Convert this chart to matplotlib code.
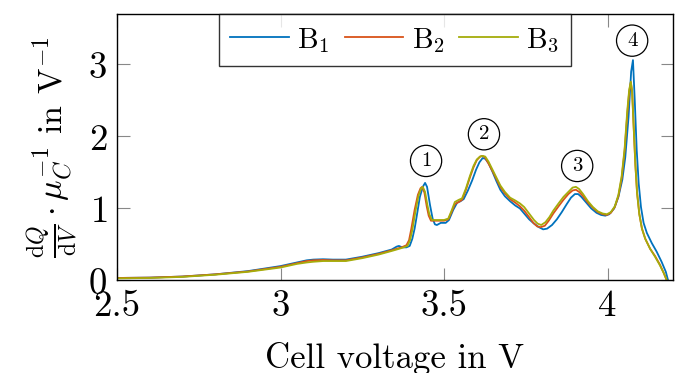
import matplotlib
matplotlib.use("Agg")
import matplotlib.pyplot as plt

plt.rcParams['font.family'] = ['cmr10', 'DejaVu Serif']
plt.rcParams['mathtext.fontset'] = 'cm'
plt.rcParams['axes.formatter.use_mathtext'] = True

# dQ/dV curves (cell voltage in V, value in 1/V)
v_b1 = [2.50, 2.60, 2.70, 2.80, 2.90, 3.00, 3.05, 3.08, 3.10, 3.13, 3.16, 3.20, 3.25, 3.30,
        3.34, 3.355, 3.362, 3.372, 3.385, 3.395, 3.403, 3.41, 3.416, 3.426, 3.435, 3.442,
        3.448, 3.457, 3.465, 3.472, 3.478, 3.49, 3.505, 3.515, 3.528, 3.54, 3.55, 3.56,
        3.573, 3.586, 3.598, 3.608, 3.618, 3.626, 3.636, 3.648, 3.66, 3.672, 3.686, 3.702,
        3.718, 3.732, 3.745, 3.76, 3.775, 3.79, 3.803, 3.815, 3.83, 3.845, 3.86, 3.875,
        3.888, 3.90, 3.91, 3.92, 3.935, 3.95, 3.966, 3.98, 3.993, 4.005, 4.02, 4.033,
        4.045, 4.054, 4.064, 4.072, 4.0775, 4.083, 4.089, 4.095, 4.102, 4.11, 4.12, 4.135,
        4.15, 4.165, 4.178, 4.185]
y_b1 = [0.035, 0.04, 0.055, 0.085, 0.13, 0.20, 0.25, 0.28, 0.29, 0.295, 0.29, 0.29, 0.33, 0.38,
        0.43, 0.47, 0.48, 0.46, 0.46, 0.48, 0.58, 0.72, 0.88, 1.16, 1.30, 1.355,
        1.30, 1.05, 0.86, 0.78, 0.77, 0.80, 0.80, 0.84, 0.98, 1.08, 1.10, 1.13,
        1.25, 1.39, 1.54, 1.64, 1.70, 1.69, 1.63, 1.51, 1.38, 1.26, 1.17, 1.10,
        1.04, 1.00, 0.93, 0.85, 0.79, 0.74, 0.71, 0.72, 0.77, 0.85, 0.95, 1.06,
        1.15, 1.20, 1.20, 1.16, 1.08, 1.00, 0.94, 0.91, 0.90, 0.92, 1.00, 1.16,
        1.40, 1.71, 2.27, 2.90, 3.06, 2.50, 1.81, 1.35, 1.02, 0.80, 0.66, 0.52,
        0.40, 0.26, 0.12, 0.0]

v_b2 = [2.50, 2.60, 2.70, 2.80, 2.90, 3.00, 3.05, 3.08, 3.10, 3.13, 3.16, 3.20, 3.25, 3.30,
        3.34, 3.37, 3.385, 3.393, 3.40, 3.41, 3.42, 3.428, 3.433, 3.44, 3.447, 3.453, 3.46,
        3.48, 3.50, 3.513, 3.523, 3.533, 3.545, 3.555, 3.567, 3.579, 3.59, 3.60, 3.61,
        3.617, 3.625, 3.635, 3.648, 3.66, 3.672, 3.686, 3.702, 3.718, 3.732, 3.745, 3.76,
        3.773, 3.785, 3.795, 3.808, 3.82, 3.834, 3.85, 3.865, 3.88, 3.893, 3.903, 3.913,
        3.925, 3.94, 3.955, 3.97, 3.985, 3.998, 4.01, 4.022, 4.033, 4.043, 4.052, 4.06,
        4.066, 4.071, 4.075, 4.08, 4.085, 4.09, 4.097, 4.105, 4.115, 4.13, 4.145, 4.16,
        4.172, 4.181]
y_b2 = [0.035, 0.04, 0.055, 0.085, 0.125, 0.19, 0.24, 0.27, 0.28, 0.285, 0.28, 0.28, 0.32, 0.37,
        0.42, 0.46, 0.49, 0.56, 0.72, 0.98, 1.19, 1.28, 1.30, 1.22, 1.03, 0.90, 0.83,
        0.83, 0.83, 0.85, 0.95, 1.06, 1.09, 1.12, 1.26, 1.43, 1.57, 1.67, 1.72,
        1.73, 1.71, 1.63, 1.52, 1.41, 1.30, 1.21, 1.13, 1.08, 1.03, 0.97, 0.88,
        0.80, 0.75, 0.74, 0.76, 0.83, 0.93, 1.03, 1.12, 1.20, 1.25, 1.26, 1.23,
        1.17, 1.08, 1.01, 0.95, 0.92, 0.91, 0.94, 1.02, 1.17, 1.42, 1.80, 2.30,
        2.62, 2.75, 2.62, 2.10, 1.60, 1.22, 0.92, 0.72, 0.58, 0.44, 0.34, 0.22,
        0.10, 0.0]

v_b3 = [2.50, 2.60, 2.70, 2.80, 2.90, 3.00, 3.05, 3.08, 3.10, 3.13, 3.16, 3.20, 3.25, 3.30,
        3.34, 3.37, 3.388, 3.396, 3.403, 3.413, 3.422, 3.43, 3.435, 3.442, 3.449, 3.455, 3.463,
        3.48, 3.50, 3.513, 3.523, 3.533, 3.545, 3.555, 3.567, 3.579, 3.59, 3.60, 3.61,
        3.618, 3.626, 3.636, 3.648, 3.66, 3.672, 3.686, 3.702, 3.718, 3.732, 3.745, 3.76,
        3.775, 3.786, 3.797, 3.81, 3.822, 3.834, 3.85, 3.865, 3.88, 3.893, 3.903, 3.913,
        3.925, 3.94, 3.955, 3.97, 3.985, 3.998, 4.01, 4.022, 4.033, 4.043, 4.052, 4.06,
        4.066, 4.071, 4.075, 4.08, 4.085, 4.09, 4.097, 4.105, 4.115, 4.13, 4.145, 4.16,
        4.172, 4.181]
y_b3 = [0.03, 0.035, 0.05, 0.08, 0.12, 0.18, 0.23, 0.25, 0.26, 0.27, 0.27, 0.27, 0.31, 0.36,
        0.41, 0.45, 0.48, 0.56, 0.70, 0.97, 1.18, 1.28, 1.30, 1.23, 1.05, 0.92, 0.84,
        0.84, 0.84, 0.86, 0.97, 1.09, 1.12, 1.14, 1.28, 1.45, 1.59, 1.68, 1.72,
        1.73, 1.72, 1.65, 1.54, 1.43, 1.32, 1.23, 1.15, 1.11, 1.07, 1.02, 0.93,
        0.84, 0.79, 0.77, 0.81, 0.88, 0.97, 1.07, 1.16, 1.23, 1.29, 1.30, 1.27,
        1.20, 1.10, 1.02, 0.96, 0.93, 0.92, 0.95, 1.03, 1.19, 1.45, 1.83, 2.35,
        2.65, 2.76, 2.62, 2.10, 1.60, 1.22, 0.92, 0.72, 0.58, 0.44, 0.33, 0.21,
        0.10, 0.0]

labels = ['B$_1$', 'B$_2$', 'B$_3$']
colors = ['#0072BD', '#D95319', '#A5AD0B']

# circled peak markers
peak_names = ['1', '2', '3', '4']
peak_x = [3.445, 3.622, 3.907, 4.075]
peak_y = [1.66, 2.03, 1.59, 3.33]

xticks = [2.5, 3.0, 3.5, 4.0]
xtick_labels = ['2.5', '3', '3.5', '4']
yticks = [0, 1, 2, 3]

fig = plt.figure(figsize=(6.76, 3.73), dpi=100)
ax = fig.add_axes([0.173, 0.248, 0.8226, 0.7145])

for v, y, lab, c in zip([v_b1, v_b2, v_b3], [y_b1, y_b2, y_b3], labels, colors):
    ax.plot(v, y, color=c, lw=1.3, label=lab)

for name, px, py in zip(peak_names, peak_x, peak_y):
    ax.text(px, py, name, fontsize=15, ha='center', va='center',
            bbox=dict(boxstyle='circle,pad=0.32', fc='white', ec='black', lw=0.9))

ax.set_xlim(2.5, 4.2)
ax.set_ylim(0, 3.7)
ax.set_xticks(xticks)
ax.set_xticklabels(xtick_labels)
ax.set_yticks(yticks)
ax.tick_params(direction='in', length=9, width=0.8, color='#888888',
               top=True, right=True, labelsize=26.5, pad=7)
for s in ax.spines.values():
    s.set_linewidth(1.0)

ax.set_xlabel('Cell voltage in V', fontsize=25, labelpad=13)
ax.set_ylabel(r'$\frac{\mathrm{d}Q}{\mathrm{d}V}\cdot\mu_C^{-1}$ in V$^{-1}$', fontsize=24.5, labelpad=6)

leg = ax.legend(loc='upper center', ncol=3, fontsize=21, frameon=True, fancybox=False,
                edgecolor='black', handlelength=2.0, handletextpad=0.3, columnspacing=0.5,
                borderpad=0.4, borderaxespad=0.0)
leg.get_frame().set_linewidth(1.0)

fig.savefig('out.png', dpi=100)
